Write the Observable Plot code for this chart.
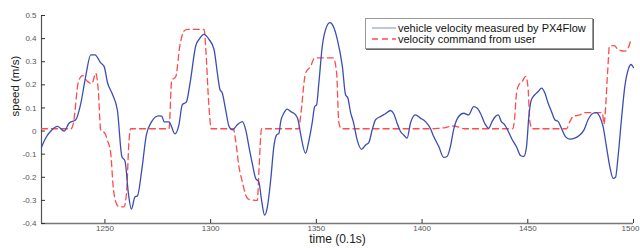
<!DOCTYPE html>
<html><head><meta charset="utf-8">
<script src="https://cdn.jsdelivr.net/npm/d3@7"></script>
<script src="https://cdn.jsdelivr.net/npm/@observablehq/plot@0.6"></script>
<style>
body{margin:0;background:#fff;}
#wrap{position:relative;width:640px;height:248px;font-family:"Liberation Sans",Arial,sans-serif;}
#legend{position:absolute;left:365px;top:18px;width:226px;height:29px;border:1px solid #999;box-shadow:1px 1px 0 #666;background:#fff;font-size:11px;color:#111;}
#legend .row{position:absolute;left:0;height:12px;display:flex;align-items:center;white-space:nowrap;}
#legend svg{margin-left:6px;margin-right:2px;}
</style></head>
<body><div id="wrap"></div>
<script>
const measuredTime = [1220,1222,1224.4,1227.6,1230.7,1233,1236.2,1238.6,1240.9,1243.3,1245.3,1248,1249.6,1251.2,1253.5,1255.9,1258,1259.5,1261.1,1262.5,1264.2,1265.4,1267.4,1269.6,1272.1,1275.3,1276.9,1278,1280.3,1283.1,1285,1286.6,1288.5,1290.3,1293,1294.8,1296.8,1299.2,1301.6,1303.2,1304.4,1305.5,1307.1,1308.7,1310.3,1312.6,1315,1316.6,1318.1,1319.7,1321.3,1322.8,1324.1,1325.5,1326.8,1328.4,1329.9,1331.2,1332.3,1333.1,1334.6,1336.2,1337.8,1340.2,1341.3,1342.5,1344.9,1346.5,1348.1,1349.2,1350.1,1351.2,1352.8,1354.4,1356.4,1358.3,1359.9,1362.3,1363.8,1364.9,1366.2,1367.5,1369.3,1371.4,1373.3,1374.8,1376.4,1378,1380.4,1382.7,1385.1,1386.6,1388.2,1389.8,1391.3,1392.9,1394.5,1396.8,1399.2,1401.6,1403.9,1405.5,1407.9,1410.2,1411.8,1413.4,1414.9,1417.3,1419.7,1422,1424.4,1426,1427.6,1429.6,1431.5,1433.1,1434.7,1436,1437.5,1439.1,1440.7,1442.3,1444.6,1446.7,1448.1,1449.4,1450.5,1451.7,1453.3,1454.9,1456.5,1458,1459.6,1461.2,1462.8,1464.4,1465.9,1467.8,1469.9,1472.2,1474.6,1476.6,1478.5,1480.9,1482.5,1484,1485.6,1487.2,1488.8,1490.4,1491.5,1492.7,1494.3,1495.9,1497.5,1498.8,1500];
const measuredSpeed = [-0.07,-0.03,0.0,0.02,0.0,0.034,0.049,0.12,0.237,0.33,0.33,0.295,0.28,0.21,0.16,0.09,-0.11,-0.13,-0.27,-0.338,-0.285,-0.28,-0.17,-0.017,0.041,0.066,0.065,0.04,0.04,-0.012,0.027,0.114,0.125,0.21,0.37,0.40,0.418,0.397,0.353,0.25,0.18,0.165,0.092,0.02,0.005,0.027,0.041,0.005,-0.067,-0.14,-0.205,-0.22,-0.3,-0.364,-0.33,-0.212,-0.067,-0.017,-0.01,0.04,0.077,0.095,0.085,0.07,0.05,-0.01,-0.096,-0.04,0.04,0.106,0.113,0.21,0.367,0.44,0.469,0.447,0.397,0.28,0.157,0.143,0.08,0.04,-0.038,-0.079,-0.06,-0.05,0.005,0.049,0.063,0.075,0.089,0.075,0.034,-0.002,-0.017,-0.031,0.034,0.07,0.056,0.041,0.012,-0.024,-0.067,-0.114,-0.11,-0.067,0.005,0.063,0.077,0.07,0.106,0.1,0.077,0.034,0.012,0.041,0.063,0.07,0.041,0.027,0,-0.031,-0.067,-0.107,-0.11,-0.067,0.063,0.136,0.157,0.171,0.186,0.167,0.121,0.085,0.049,0.041,0.012,-0.024,-0.035,-0.031,-0.017,0.005,0.049,0.077,0.08,0.063,0.02,-0.067,-0.154,-0.205,-0.2,-0.11,0.05,0.193,0.266,0.288,0.275];
const commandTime = [1220,1234,1235,1237.5,1239.4,1241.7,1243.8,1245.7,1246.9,1248,1250,1251.2,1252.8,1253.8,1255.1,1256.7,1259,1260.2,1261.4,1262.2,1280.3,1281.6,1283.5,1285.4,1287.4,1289,1296.9,1297.6,1299.2,1300.3,1310.7,1311.8,1313.4,1315,1316.6,1318.1,1322.1,1322.8,1324.1,1341.7,1342.5,1344.9,1347.3,1349.2,1358,1359.6,1360.6,1361.8,1405,1408,1411,1414,1417,1420,1442.8,1443.6,1444.7,1445.8,1447.4,1449,1450.1,1451,1452.1,1468.3,1469.9,1471.4,1474.6,1477,1485.3,1486,1487.8,1488.6,1490.9,1492.7,1495.9,1497.5,1498.6];
const commandSpeed = [0.01,0.01,0.03,0.215,0.24,0.215,0.205,0.25,0.17,0.005,-0.01,-0.04,-0.1,-0.23,-0.306,-0.328,-0.328,-0.27,-0.04,0.01,0.01,0.22,0.235,0.367,0.433,0.44,0.44,0.37,0.106,0.01,0.01,-0.04,-0.154,-0.22,-0.277,-0.296,-0.3,-0.18,0.01,0.01,0.06,0.25,0.28,0.317,0.317,0.25,0.04,0.01,0.01,0.012,0.015,0.022,0.018,0.01,0.01,0.04,0.165,0.2,0.215,0.237,0.19,0.04,0.01,0.01,0.041,0.063,0.07,0.08,0.08,0.03,0.26,0.367,0.37,0.353,0.346,0.36,0.389];
const xTicks = [1250,1300,1350,1400,1450,1500];
const yTicks = [-0.4,-0.3,-0.2,-0.1,0,0.1,0.2,0.3,0.4,0.5];
const xDomain = [1220,1500];
const seriesNames = ["vehicle velocity measured by PX4Flow","velocity command from user"];
const xTitle = "time (0.1s)";
const yTitle = "speed (m/s)";

const measured = measuredTime.map((t,i)=>({t, v: measuredSpeed[i]}));
const command = commandTime.map((t,i)=>({t, v: commandSpeed[i]}));
const blue = "#3b4db3", red = "#ff4b4b";
const fmt = d => d === 0 ? "0" : String(d);
const lastX = xTicks[xTicks.length-1];

const chart = Plot.plot({
  width: 640, height: 248,
  marginLeft: 41, marginRight: 7, marginTop: 15, marginBottom: 25,
  style: {fontFamily: "Liberation Sans, Arial, sans-serif", background: "#fff"},
  x: {domain: xDomain},
  y: {domain: [yTicks[0], yTicks[yTicks.length-1]]},
  marks: [
    Plot.ruleX([xDomain[0]], {stroke: "#555", strokeWidth: 1.2}),
    Plot.ruleY([yTicks[0]], {stroke: "#777", strokeWidth: 1.5}),
    Plot.axisY(yTicks, {tickSize: 0, tickPadding: 5, tickFormat: fmt, fontSize: 8, fill: "#555", label: null}),
    Plot.axisY(yTicks, {tickSize: -4, tickFormat: () => "", stroke: "#333", label: null}),
    Plot.axisX(xTicks.filter(d => d !== lastX), {tickSize: 0, tickPadding: 2, tickFormat: d => String(d), fontSize: 8, fill: "#555", label: null}),
    Plot.axisX([lastX], {tickSize: 0, tickPadding: 2, tickFormat: d => String(d), fontSize: 8, fill: "#555", label: null, dx: -3}),
    Plot.axisX(xTicks, {tickSize: -4, tickFormat: () => "", stroke: "#333", label: null}),
    Plot.line(command, {x: "t", y: "v", stroke: red, strokeWidth: 1.3, strokeDasharray: "6,4", curve: "monotone-x"}),
    Plot.line(measured, {x: "t", y: "v", stroke: blue, strokeWidth: 1.3, curve: "monotone-x"}),
    Plot.text([xTitle], {frameAnchor: "bottom", dy: 19.5, fontSize: 12, fill: "#222"}),
    Plot.text([yTitle], {frameAnchor: "left", rotate: -90, dx: -26, dy: -3, fontSize: 11.5, fill: "#222"})
  ]
});
const wrap = document.getElementById("wrap");
wrap.appendChild(chart);

const legend = document.createElement("div");
legend.id = "legend";
const colors = [blue, red];
const dashes = [null, "6,4"];
seriesNames.forEach((name, i) => {
  const row = document.createElement("div");
  row.className = "row";
  row.style.top = (i === 0 ? 2.5 : 13.5) + "px";
  const ns = "http://www.w3.org/2000/svg";
  const s = document.createElementNS(ns, "svg");
  s.setAttribute("width", 24); s.setAttribute("height", 8);
  const l = document.createElementNS(ns, "line");
  l.setAttribute("x1", 0); l.setAttribute("x2", 24); l.setAttribute("y1", 4); l.setAttribute("y2", 4);
  l.setAttribute("stroke", i === 0 ? "#9aa6dd" : colors[i]);
  l.setAttribute("stroke-width", 1.3);
  if (dashes[i]) l.setAttribute("stroke-dasharray", dashes[i]);
  s.appendChild(l);
  const span = document.createElement("span");
  span.textContent = name;
  row.appendChild(s); row.appendChild(span);
  legend.appendChild(row);
});
wrap.appendChild(legend);
</script></body></html>
